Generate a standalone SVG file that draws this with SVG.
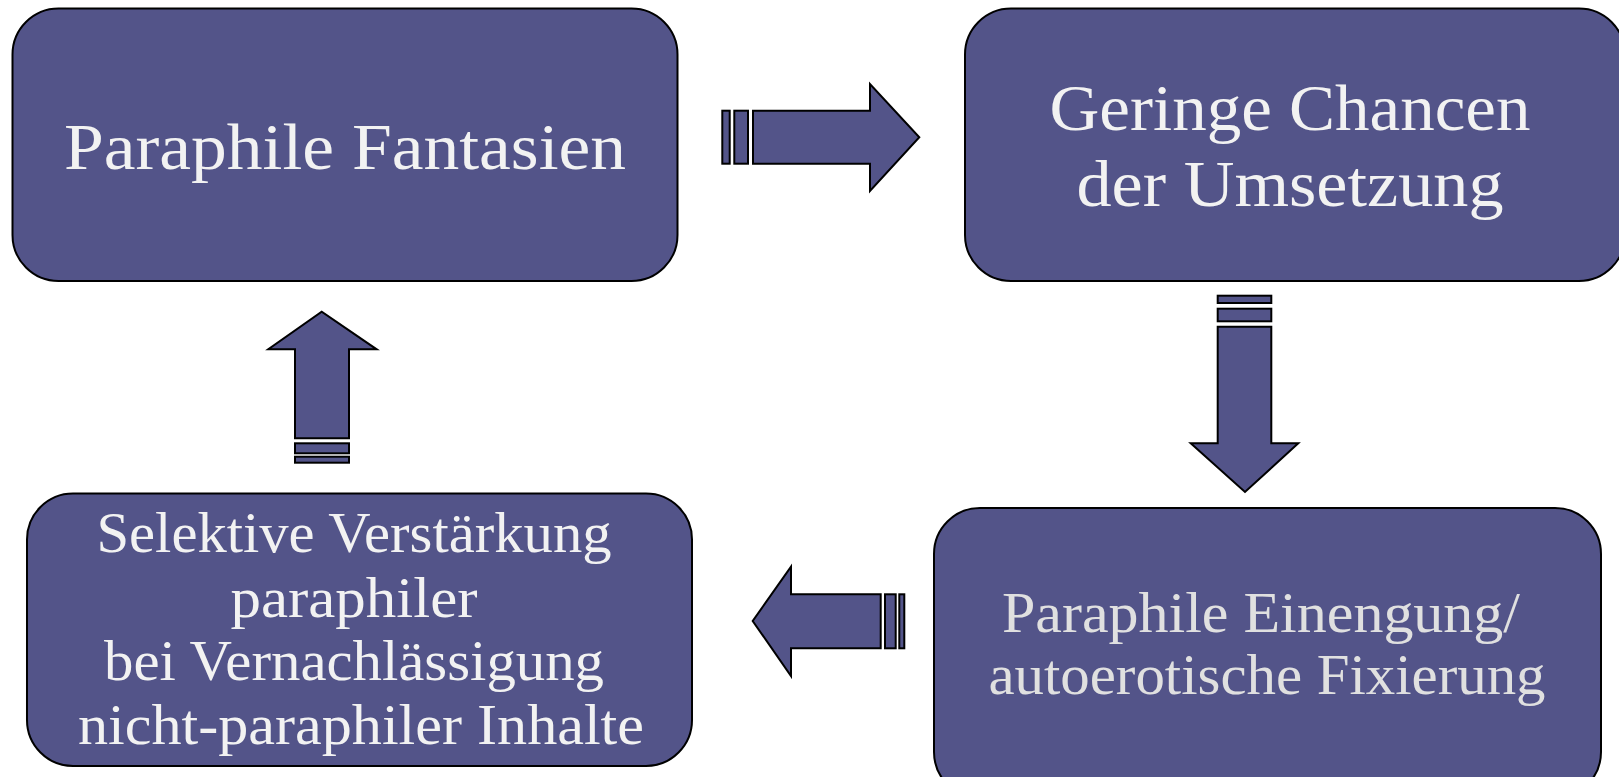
<svg xmlns="http://www.w3.org/2000/svg" width="1619" height="777" viewBox="0 0 1619 777">
<style>
.box{fill:#535489;stroke:#000;stroke-width:2}
.arr{fill:#535489;stroke:#000;stroke-width:2;stroke-linejoin:miter}
.t{font-family:"Liberation Serif","Times New Roman",serif;fill:#F2F2F2;text-anchor:middle}
.big{font-size:66px}
.mid{font-size:56px}
.g{fill:#E0E0E0}
</style>
<rect width="1619" height="777" fill="#fff"/>
<g id="node-fantasien">
<rect class="box" x="12.5" y="8.5" width="665" height="272.5" rx="46" ry="46"/>
<text class="t big" x="345" y="169" textLength="562" lengthAdjust="spacingAndGlyphs">Paraphile Fantasien</text>
</g>
<g id="node-chancen">
<rect class="box" x="965" y="8.5" width="660" height="272.5" rx="46" ry="46"/>
<text class="t big" x="1290" y="130" textLength="481" lengthAdjust="spacingAndGlyphs">Geringe Chancen</text>
<text class="t big" x="1290" y="206" textLength="427" lengthAdjust="spacingAndGlyphs">der Umsetzung</text>
</g>
<g id="node-einengung">
<rect class="box" x="934" y="508" width="667" height="290" rx="46" ry="46"/>
<text class="t mid g" x="1261" y="632" textLength="518" lengthAdjust="spacingAndGlyphs">Paraphile Einengung/</text>
<text class="t mid g" x="1267" y="694" textLength="557" lengthAdjust="spacingAndGlyphs">autoerotische Fixierung</text>
</g>
<g id="node-verstaerkung">
<rect class="box" x="27" y="493.5" width="665" height="272.5" rx="46" ry="46"/>
<text class="t mid" x="354" y="552" textLength="515" lengthAdjust="spacingAndGlyphs">Selektive Verstärkung</text>
<text class="t mid" x="354" y="617" textLength="247" lengthAdjust="spacingAndGlyphs">paraphiler</text>
<text class="t mid" x="354" y="680" textLength="500" lengthAdjust="spacingAndGlyphs">bei Vernachlässigung</text>
<text class="t mid" x="361" y="744" textLength="566" lengthAdjust="spacingAndGlyphs">nicht-paraphiler Inhalte</text>
</g>
<g id="connectors">
<g id="arrow-right">
<rect class="arr" x="722.3" y="110.7" width="7.4" height="53"/>
<rect class="arr" x="734.3" y="110.7" width="13.7" height="53"/>
<polygon class="arr" points="753,110.7 870,110.7 870,84 919.3,137.3 870,191 870,163.7 753,163.7"/>
</g>
<g id="arrow-down">
<rect class="arr" x="1217.7" y="295.7" width="53.6" height="7.3"/>
<rect class="arr" x="1217.7" y="308.7" width="53.6" height="12.6"/>
<polygon class="arr" points="1217.7,326.7 1271.3,326.7 1271.3,443.3 1298.3,443.3 1245,492 1190.7,443.3 1217.7,443.3"/>
</g>
<g id="arrow-left">
<polygon class="arr" points="880.7,594.3 791,594.3 791,566.7 752.7,621 791,676 791,648.3 880.7,648.3"/>
<rect class="arr" x="885" y="594.3" width="10.7" height="54"/>
<rect class="arr" x="899.3" y="594.3" width="5" height="54"/>
</g>
<g id="arrow-up">
<polygon class="arr" points="295,438.3 295,349.3 268.3,349.3 321.7,311.7 376.7,349.3 349,349.3 349,438.3"/>
<rect class="arr" x="295" y="443.3" width="54" height="10"/>
<rect class="arr" x="295" y="456.7" width="54" height="6"/>
</g>
</g>
</svg>
